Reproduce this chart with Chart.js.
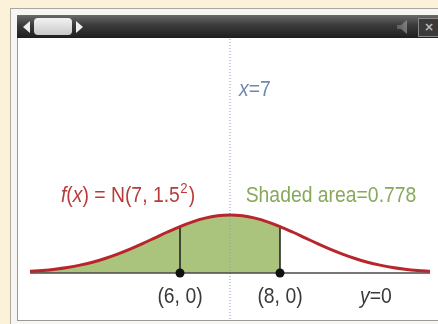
<!DOCTYPE html>
<html>
<head>
<meta charset="utf-8">
<script src="https://cdn.jsdelivr.net/npm/chart.js@4.4.1/dist/chart.umd.min.js"></script>
<style>
  html, body { margin: 0; padding: 0; }
  body { width: 438px; height: 324px; background: #fbf2d9; position: relative; overflow: hidden; }
  #outer { position: absolute; left: 10px; top: 8px; width: 440px; height: 318px; border: 1px solid #a9a79f; background: #f7f6f2; }
  #inner { position: absolute; left: 17px; top: 15px; width: 430px; height: 304px; border: 1px solid #9a9a9a; background: #fff; }
  #bar { position: absolute; left: 17px; top: 15px; width: 430px; height: 23px;
         background: linear-gradient(#6a6a6a, #3a3a3a 45%, #1e1e1e); }
  #larr { position: absolute; left: 23px; top: 21px; width: 0; height: 0;
          border-top: 6px solid transparent; border-bottom: 6px solid transparent; border-right: 7px solid #eee; }
  #thumb { position: absolute; left: 34px; top: 18px; width: 38px; height: 17px; border-radius: 4px;
           background: linear-gradient(#f2f2f2, #c9c9c9); }
  #rarr { position: absolute; left: 76px; top: 21px; width: 0; height: 0;
          border-top: 6px solid transparent; border-bottom: 6px solid transparent; border-left: 7px solid #eee; }
  #spk { position: absolute; left: 397px; top: 20px; width: 10px; height: 14px; background: linear-gradient(90deg, #777, #aaa); opacity: 0.6;
         clip-path: polygon(0 35%, 40% 35%, 100% 0, 100% 100%, 40% 65%, 0 65%); }
  #close { position: absolute; left: 418px; top: 18px; width: 20px; height: 17px; border: 1px solid #888; background: #3a3a3a;
           color: #bbb; font: bold 12px "DejaVu Sans", sans-serif; line-height: 17px; text-align: center; }
  #plot { position: absolute; left: 18px; top: 38px; }
</style>
</head>
<body>
<div id="outer"></div>
<div id="inner"></div>
<div id="bar"></div>
<div id="larr"></div><div id="thumb"></div><div id="rarr"></div>
<div id="spk"></div>
<div id="close">×</div>
<canvas id="plot" width="420" height="281"></canvas>
<script>
// density of N(7, 1.5^2) sampled every 0.25 from 3 to 11
var xValues = [3, 3.25, 3.5, 3.75, 4, 4.25, 4.5, 4.75, 5, 5.25, 5.5, 5.75, 6, 6.25, 6.5, 6.75, 7,
               7.25, 7.5, 7.75, 8, 8.25, 8.5, 8.75, 9, 9.25, 9.5, 9.75, 10, 10.25, 10.5, 10.75, 11];
var yValues = [0.0076, 0.0117, 0.0175, 0.0254, 0.0360, 0.0495, 0.0663, 0.0863, 0.1093, 0.1347, 0.1613,
               0.1879, 0.2130, 0.2347, 0.2516, 0.2623, 0.2660, 0.2623, 0.2516, 0.2347, 0.2130, 0.1879,
               0.1613, 0.1347, 0.1093, 0.0863, 0.0663, 0.0495, 0.0360, 0.0254, 0.0175, 0.0117, 0.0076];
var shadeTo = 8;
var meanX = 7;
var markX = [6, 8];

var xMin = 2.76, xMax = 11.16, yMin = -0.211, yMax = 1.0775;

var FONT = "'Liberation Sans', Arial, sans-serif";
var SQUEEZE = 0.88;   // narrow the glyphs horizontally

// text runs: [text, italic, superscript]
var labels = [
  { x: 7.18, y: 0.84, align: 'left', color: '#7088ab', runs: [['x', true], ['=7']] },
  { x: 4.96, y: 0.353, align: 'center', color: '#b83b3b', runs: [['f', true], ['('], ['x', true], [') = N(7, 1.5'], ['2', false, true], [')']] },
  { x: 9.02, y: 0.353, align: 'center', color: '#88a85c', runs: [['Shaded area=0.778']] },
  { x: 6.0, y: -0.11, align: 'center', color: '#3a3a3a', runs: [['(6, 0)']] },
  { x: 8.0, y: -0.11, align: 'center', color: '#3a3a3a', runs: [['(8, 0)']] },
  { x: 9.92, y: -0.11, align: 'center', color: '#3a3a3a', runs: [['y', true], ['=0']] }
];

function pts(xs, ys) {
  var out = [];
  for (var i = 0; i < xs.length; i++) out.push({ x: xs[i], y: ys[i] });
  return out;
}

var curve = pts(xValues, yValues);
var shaded = curve.filter(function (p) { return p.x <= shadeTo; });

function dropLine(x) {
  var i = xValues.indexOf(x);
  return { data: [{ x: x, y: 0 }, { x: x, y: yValues[i] }], showLine: true, borderColor: '#1d1d1d', borderWidth: 1.5,
           pointRadius: [4.5, 0], pointBackgroundColor: '#111', pointBorderWidth: 0, order: 2 };
}

var textPlugin = {
  id: 'textLabels',
  afterDatasetsDraw: function (chart) {
    var ctx = chart.ctx, xs = chart.scales.x, ys = chart.scales.y;
    ctx.save();
    ctx.textBaseline = 'middle';
    labels.forEach(function (lb) {
      var size = 22;
      var fontOf = function (r) { return (r[1] ? 'italic ' : '') + (r[2] ? 15 : size) + 'px ' + FONT; };
      var widths = lb.runs.map(function (r) {
        ctx.font = fontOf(r);
        return ctx.measureText(r[0]).width * SQUEEZE + (r[2] ? 1.5 : 0);
      });
      var total = widths.reduce(function (a, b) { return a + b; }, 0);
      var px = xs.getPixelForValue(lb.x), py = ys.getPixelForValue(lb.y);
      if (lb.align === 'center') px -= total / 2;
      ctx.fillStyle = lb.color;
      lb.runs.forEach(function (r, i) {
        ctx.font = fontOf(r);
        ctx.save();
        ctx.translate(px + (r[2] ? 0.5 : 0), r[2] ? py - 7 : py);
        ctx.scale(SQUEEZE, 1);
        ctx.fillText(r[0], 0, 0);
        ctx.restore();
        px += widths[i];
      });
    });
    ctx.restore();
  }
};

chart = new Chart(document.getElementById('plot'), {
  type: 'scatter',
  data: {
    datasets: [
      { data: curve, showLine: true, borderColor: '#b8252b', borderWidth: 3, pointRadius: 0,
        cubicInterpolationMode: 'monotone', order: 1 },
      dropLine(markX[0]),
      dropLine(markX[1]),
      { data: [{ x: xValues[0], y: 0 }, { x: xValues[xValues.length - 1], y: 0 }], showLine: true,
        borderColor: '#4a4a4a', borderWidth: 1.5, pointRadius: 0, order: 3 },
      { data: [{ x: meanX, y: yMin }, { x: meanX, y: yMax }], showLine: true, borderColor: '#7f9dcf',
        borderWidth: 1, borderDash: [1, 2], pointRadius: 0, order: 4 },
      { data: shaded, showLine: true, borderWidth: 0, borderColor: 'rgba(0,0,0,0)', backgroundColor: '#aac47e',
        fill: 'origin', pointRadius: 0, cubicInterpolationMode: 'monotone', order: 5 }
    ]
  },
  options: {
    responsive: false,
    animation: false,
    devicePixelRatio: 1,
    layout: { padding: 0, autoPadding: false },
    scales: {
      x: { type: 'linear', min: xMin, max: xMax, display: false },
      y: { min: yMin, max: yMax, display: false }
    },
    plugins: { legend: { display: false }, tooltip: { enabled: false } }
  },
  plugins: [textPlugin]
});
</script>
</body>
</html>
